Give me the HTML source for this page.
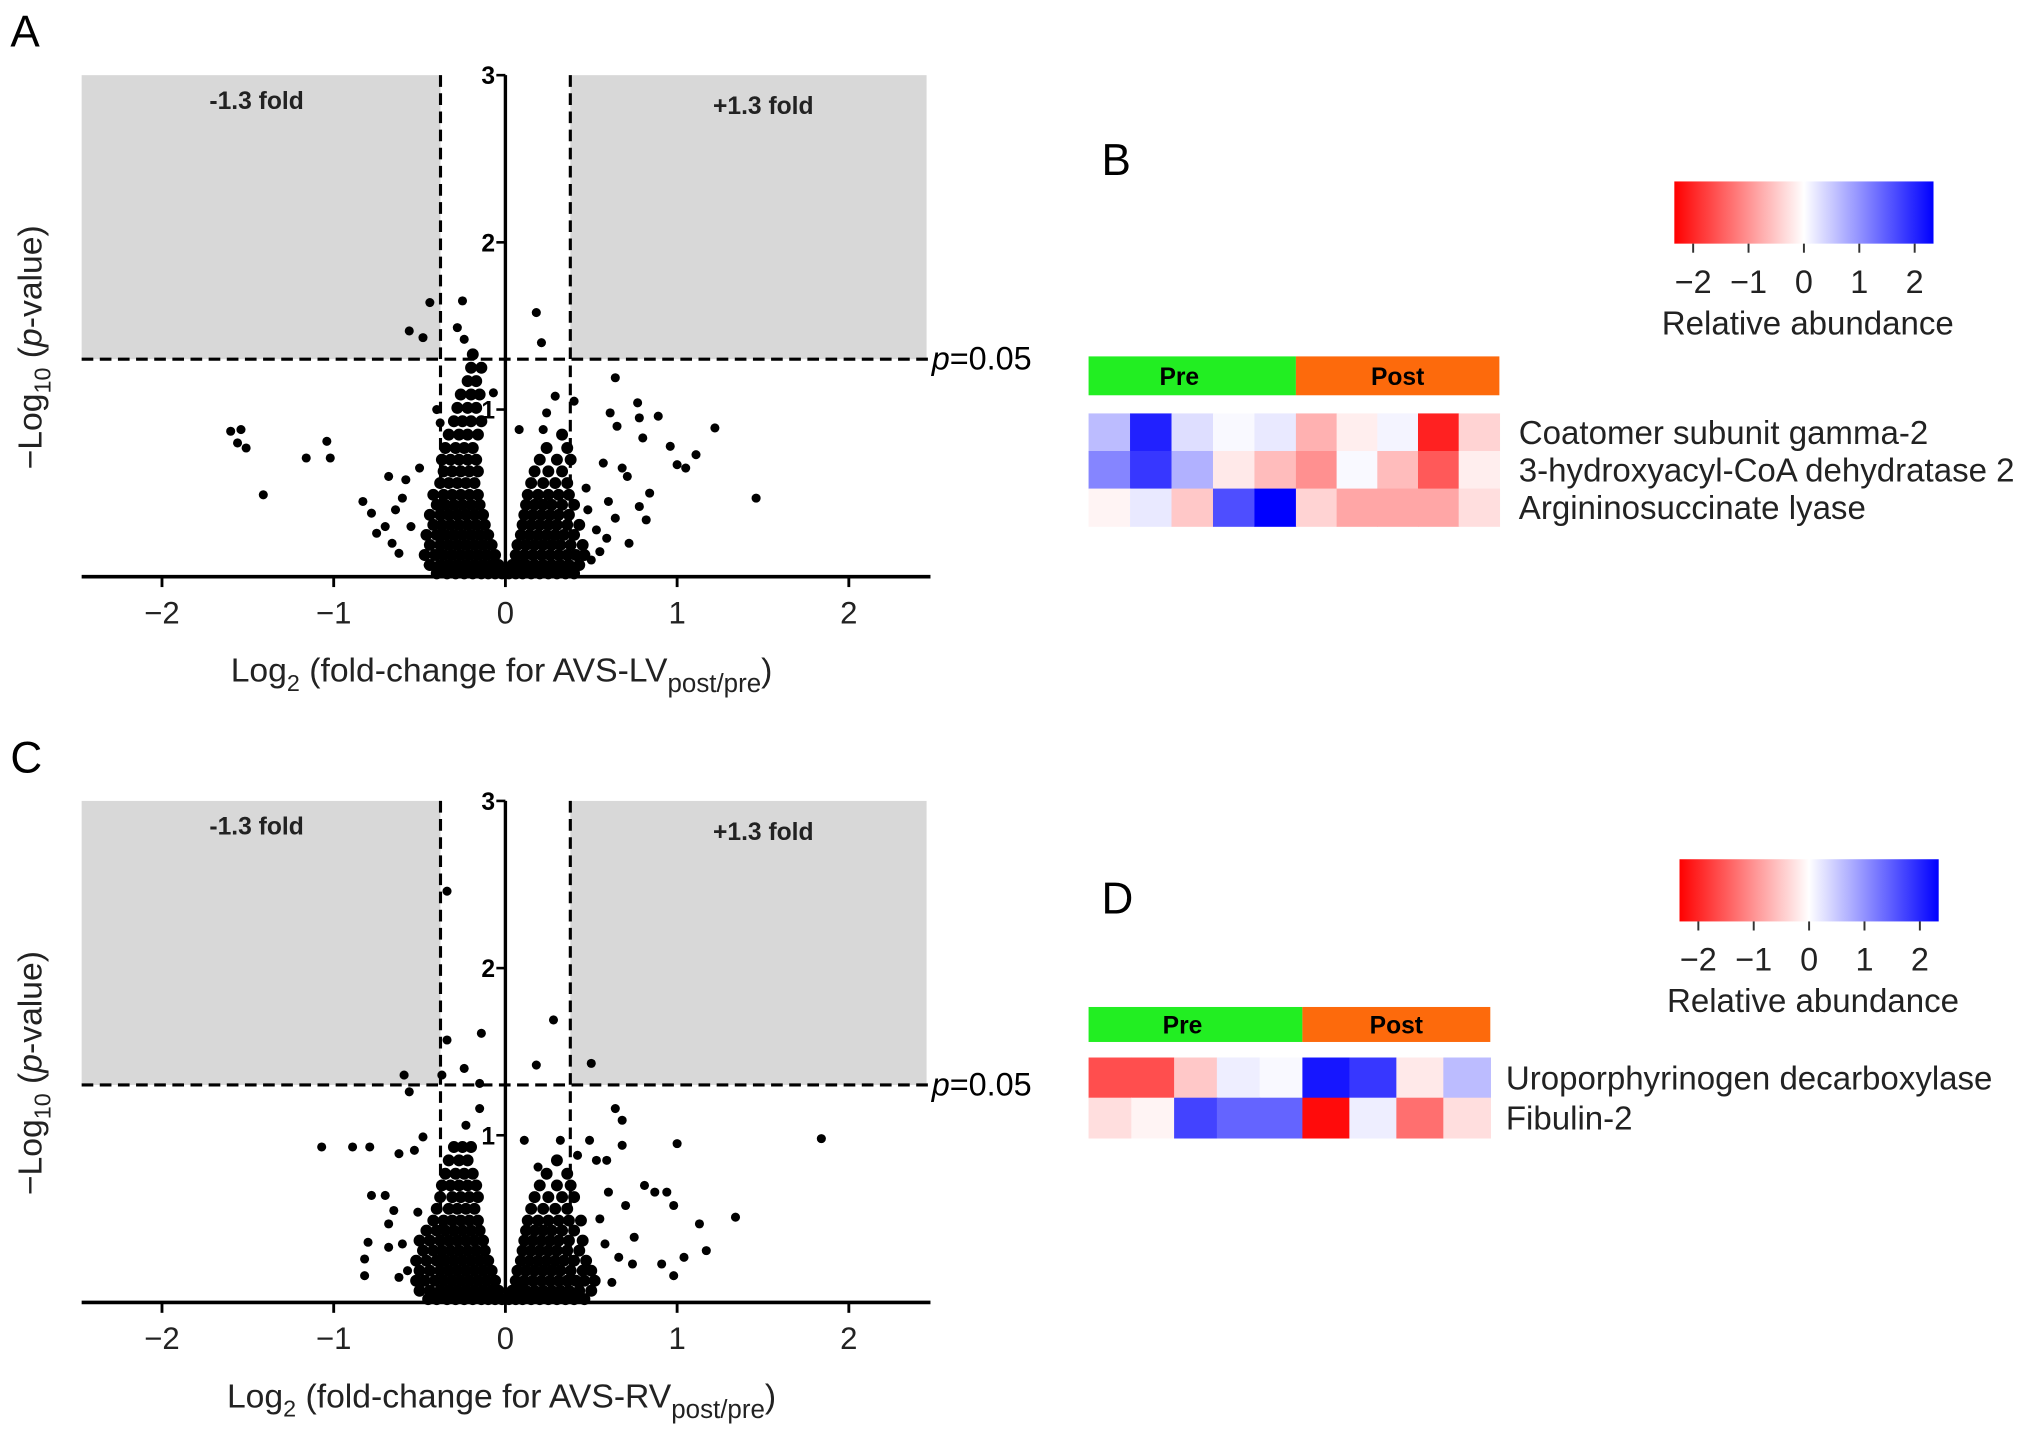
<!DOCTYPE html>
<html><head><meta charset="utf-8"><style>
html,body{margin:0;padding:0;background:#fff;}
svg{display:block;font-family:"Liberation Sans",sans-serif;}
</style></head><body>
<svg id="fig" width="2032" height="1434" viewBox="0 0 1568 1106.5" preserveAspectRatio="none" xmlns="http://www.w3.org/2000/svg"></svg>
<script>
// ---------- Data ----------
const xTicks = [-2, -1, 0, 1, 2];
const xTickLabels = ["\u22122", "\u22121", "0", "1", "2"];
const yTicks = [1, 2, 3];
const yTickLabels = ["1", "2", "3"];
const foldCut = 0.378;
const pCut = 1.301;

const outliersA = [[-0.44,1.64],[-0.25,1.65],[-0.56,1.47],[-0.48,1.43],[-0.28,1.49],[-0.24,1.42],[0.18,1.58],[0.21,1.40],
[0.64,1.19],[0.77,1.04],[0.89,0.96],[0.78,0.95],[0.61,0.98],[0.65,0.90],[0.80,0.83],[1.22,0.89],[0.96,0.78],[1.11,0.73],[1.00,0.67],[1.05,0.65],[1.46,0.47],
[0.29,1.08],[0.40,1.05],[0.24,0.98],[0.08,0.88],[0.22,0.88],[-0.07,1.10],[-0.40,1.00],[-0.38,0.92],
[-1.60,0.87],[-1.54,0.88],[-1.56,0.80],[-1.51,0.77],[-1.04,0.81],[-1.16,0.71],[-1.02,0.71],[-1.41,0.49],[-0.83,0.45],[-0.68,0.60],[-0.58,0.58],[-0.50,0.65],
[-0.78,0.38],[-0.75,0.26],[-0.66,0.20],[-0.62,0.14],[-0.45,0.07],[-0.60,0.47],[-0.70,0.30],[-0.55,0.30],[-0.64,0.40],
[0.57,0.68],[0.68,0.65],[0.71,0.60],[0.84,0.50],[0.78,0.42],[0.82,0.34],[0.72,0.20],[0.50,0.10],[0.59,0.23],[0.64,0.35],[0.47,0.53],[0.53,0.28],[0.60,0.45],[0.48,0.40],[0.55,0.15]];

const coreA = [
[0.02,[-0.40,-0.34,-0.29,-0.24,-0.19,-0.14,-0.10,-0.06,-0.02,0.02,0.06,0.10,0.15,0.20,0.25,0.30,0.35,0.40]],
[0.07,[-0.44,-0.38,-0.33,-0.28,-0.23,-0.18,-0.13,-0.08,-0.04,0.04,0.08,0.12,0.17,0.22,0.27,0.32,0.37,0.43]],
[0.13,[-0.47,-0.41,-0.36,-0.31,-0.26,-0.21,-0.16,-0.11,-0.06,0.06,0.11,0.16,0.21,0.26,0.31,0.36,0.41,0.46]],
[0.19,[-0.44,-0.38,-0.33,-0.28,-0.23,-0.18,-0.13,-0.08,0.07,0.12,0.17,0.22,0.27,0.32,0.38,0.45]],
[0.25,[-0.46,-0.40,-0.35,-0.30,-0.25,-0.20,-0.15,-0.10,0.09,0.14,0.19,0.24,0.29,0.34,0.40]],
[0.31,[-0.42,-0.37,-0.32,-0.27,-0.22,-0.17,-0.12,0.10,0.15,0.20,0.25,0.30,0.36,0.43]],
[0.37,[-0.44,-0.38,-0.33,-0.28,-0.23,-0.18,-0.13,0.11,0.16,0.21,0.26,0.31,0.37]],
[0.43,[-0.40,-0.35,-0.30,-0.25,-0.20,-0.15,0.12,0.17,0.22,0.27,0.33,0.40]],
[0.49,[-0.42,-0.36,-0.31,-0.26,-0.21,-0.16,0.13,0.19,0.25,0.31,0.37]],
[0.56,[-0.38,-0.33,-0.28,-0.23,-0.18,0.15,0.22,0.29,0.36]],
[0.63,[-0.36,-0.31,-0.26,-0.21,-0.16,0.17,0.25,0.33]],
[0.70,[-0.37,-0.32,-0.27,-0.22,-0.17,0.20,0.30,0.38]],
[0.77,[-0.35,-0.29,-0.24,-0.19,0.24,0.36]],
[0.85,[-0.33,-0.27,-0.22,-0.16,0.33]],
[0.93,[-0.30,-0.25,-0.20,-0.14]],
[1.01,[-0.28,-0.22,-0.17]],
[1.09,[-0.26,-0.20,-0.15]],
[1.17,[-0.22,-0.17]],
[1.25,[-0.20,-0.14]],
[1.33,[-0.19]]
];

const outliersC = [[-0.34,2.46],[-0.14,1.61],[-0.34,1.57],[0.28,1.69],[0.18,1.42],[0.50,1.43],[-0.59,1.36],[-0.56,1.26],[-0.37,1.36],[-0.24,1.40],[-0.15,1.31],
[0.64,1.16],[0.68,1.09],[-0.15,1.16],[-0.23,1.06],[-0.48,0.99],[-1.07,0.93],[-0.89,0.93],[-0.79,0.93],[-0.62,0.89],[-0.53,0.91],[1.84,0.98],[1.00,0.95],
[0.68,0.94],[0.59,0.85],[1.34,0.51],[0.94,0.66],[0.98,0.58],[1.13,0.47],[1.04,0.27],[0.98,0.16],[1.17,0.31],[0.91,0.23],[-0.78,0.64],[-0.70,0.64],[-0.68,0.47],
[-0.80,0.36],[-0.82,0.16],[-0.82,0.26],[-0.68,0.33],[0.60,0.66],[0.70,0.58],[0.81,0.70],[0.87,0.66],[0.75,0.39],[0.66,0.27],[0.74,0.23],[0.49,0.97],[0.53,0.85],
[0.32,0.97],[0.42,0.88],[-0.51,0.54],[-0.60,0.35],[-0.57,0.19],[0.11,0.97],[0.19,0.81],[-0.62,0.15],[-0.65,0.55],[0.55,0.50],[0.58,0.35],[0.62,0.12]];

const coreC = [
[0.02,[-0.45,-0.40,-0.34,-0.29,-0.24,-0.19,-0.14,-0.10,-0.06,-0.02,0.02,0.06,0.10,0.15,0.20,0.25,0.30,0.35,0.40,0.46]],
[0.07,[-0.50,-0.44,-0.38,-0.33,-0.28,-0.23,-0.18,-0.13,-0.08,-0.04,0.04,0.08,0.12,0.17,0.22,0.27,0.32,0.37,0.43,0.50]],
[0.13,[-0.52,-0.47,-0.41,-0.36,-0.31,-0.26,-0.21,-0.16,-0.11,-0.06,0.06,0.11,0.16,0.21,0.26,0.31,0.36,0.41,0.46,0.52]],
[0.19,[-0.50,-0.44,-0.38,-0.33,-0.28,-0.23,-0.18,-0.13,-0.08,0.07,0.12,0.17,0.22,0.27,0.32,0.38,0.45,0.50]],
[0.25,[-0.52,-0.46,-0.40,-0.35,-0.30,-0.25,-0.20,-0.15,-0.10,0.09,0.14,0.19,0.24,0.29,0.34,0.40,0.47]],
[0.31,[-0.48,-0.42,-0.37,-0.32,-0.27,-0.22,-0.17,-0.12,0.10,0.15,0.20,0.25,0.30,0.36,0.43]],
[0.37,[-0.50,-0.44,-0.38,-0.33,-0.28,-0.23,-0.18,-0.13,0.11,0.16,0.21,0.26,0.31,0.37,0.45]],
[0.43,[-0.46,-0.40,-0.35,-0.30,-0.25,-0.20,-0.15,0.12,0.17,0.22,0.27,0.33,0.40]],
[0.49,[-0.42,-0.36,-0.31,-0.26,-0.21,-0.16,0.13,0.19,0.25,0.31,0.37,0.44]],
[0.56,[-0.40,-0.33,-0.28,-0.23,-0.18,0.15,0.22,0.29,0.36]],
[0.63,[-0.38,-0.31,-0.26,-0.21,-0.16,0.17,0.25,0.33,0.40]],
[0.70,[-0.37,-0.32,-0.27,-0.22,-0.17,0.20,0.30,0.38]],
[0.77,[-0.35,-0.29,-0.24,-0.19,0.24,0.36]],
[0.85,[-0.33,-0.27,-0.22,0.30]],
[0.93,[-0.30,-0.25,-0.20]]
];

const heatRowsB = ["Coatomer subunit gamma-2", "3-hydroxyacyl-CoA dehydratase 2", "Argininosuccinate lyase"];
const heatValsB = [
[0.6, 2.0, 0.3, 0.05, 0.2, -0.7, -0.15, 0.1, -2.0, -0.4],
[1.1, 1.8, 0.7, -0.2, -0.6, -1.0, 0.05, -0.6, -1.5, -0.15],
[-0.1, 0.2, -0.5, 1.6, 2.3, -0.4, -0.8, -0.8, -0.8, -0.3]];
const groupsB = ["Pre","Pre","Pre","Pre","Pre","Post","Post","Post","Post","Post"];

const heatRowsD = ["Uroporphyrinogen decarboxylase", "Fibulin-2"];
const heatValsD = [
[-1.6, -1.6, -0.5, 0.15, 0.05, 2.1, 1.8, -0.2, 0.6],
[-0.3, -0.1, 1.7, 1.4, 1.4, -2.2, 0.15, -1.3, -0.3]];
const groupsD = ["Pre","Pre","Pre","Pre","Pre","Post","Post","Post","Post"];

const scaleTicks = [-2, -1, 0, 1, 2];
const scaleTickLabels = ["\u22122", "\u22121", "0", "1", "2"];

// ---------- helpers ----------
const NS = "http://www.w3.org/2000/svg";
const svg = document.getElementById("fig");
function mk(tag, attrs, parent, text) {
  const e = document.createElementNS(NS, tag);
  for (const k in attrs) e.setAttribute(k, attrs[k]);
  if (text !== undefined) e.textContent = text;
  (parent || svg).appendChild(e);
  return e;
}

function volcano(oy, outliers, core, tag, panelLetter) {
  const X0 = 390, XU = 132.5, Y0 = 445 + oy, YU = 129;
  const sx = v => X0 + v * XU;
  const sy = v => Y0 - v * YU;
  const g = mk("g", {});
  
  
  const L = mk("text", {x: 8, y: 36 + oy, "font-size": 34}, g, panelLetter);
  
  
  const r1 = mk("rect", {x: 63, y: sy(3), width: sx(-foldCut) - 63, height: sy(pCut) - sy(3), fill: "#d8d8d8"}, g);
  
  
  const r2 = mk("rect", {x: sx(foldCut), y: sy(3), width: 715 - sx(foldCut), height: sy(pCut) - sy(3), fill: "#d8d8d8"}, g);
  
  
  const t1 = mk("text", {x: 198, y: 84 + oy, "font-size": 19, "font-weight": "bold", "text-anchor": "middle", fill: "#222"}, g, "-1.3 fold");
  
  
  const t2 = mk("text", {x: 589, y: 88 + oy, "font-size": 19, "font-weight": "bold", "text-anchor": "middle", fill: "#222"}, g, "+1.3 fold");
  
  
  const pts = mk("g", {fill: "#000"}, g);
  
  
  core.forEach(row => row[1].forEach(x => {
    const c = mk("circle", {cx: sx(x), cy: sy(row[0]), r: 4.6}, pts);
    
    
  }));
  outliers.forEach(p => {
    const c = mk("circle", {cx: sx(p[0]), cy: sy(p[1]), r: 3.5}, pts);
    
    
  });
  const dash = {stroke: "#000", "stroke-width": 2.4, "stroke-dasharray": "9,5", fill: "none"};
  const h = mk("line", Object.assign({x1: 63, x2: 718, y1: sy(pCut), y2: sy(pCut)}, dash), g);
  
  
  const v1 = mk("line", Object.assign({x1: sx(-foldCut), x2: sx(-foldCut), y1: sy(3), y2: Y0}, dash), g);
  
  
  const v2 = mk("line", Object.assign({x1: sx(foldCut), x2: sx(foldCut), y1: sy(3), y2: Y0}, dash), g);
  
  
  const pl = mk("text", {x: 719, y: sy(pCut) + 8, "font-size": 25}, g);
  
  
  mk("tspan", {"font-style": "italic"}, pl, "p");
  mk("tspan", {}, pl, "=0.05");
  const xa = mk("line", {x1: 63, x2: 718, y1: Y0, y2: Y0, stroke: "#000", "stroke-width": 2.8}, g);
  
  
  const ya = mk("line", {x1: X0, x2: X0, y1: sy(3), y2: Y0, stroke: "#000", "stroke-width": 2.6}, g);
  
  
  xTicks.forEach((t, i) => {
    const tk = mk("line", {x1: sx(t), x2: sx(t), y1: Y0, y2: Y0 + 8, stroke: "#000", "stroke-width": 2.2}, g);
    
    
    const tl = mk("text", {x: sx(t), y: Y0 + 36, "font-size": 24, "text-anchor": "middle", fill: "#222"}, g, xTickLabels[i]);
    
    
  });
  yTicks.forEach((t, i) => {
    const tk = mk("line", {x1: X0 - 7, x2: X0, y1: sy(t), y2: sy(t), stroke: "#000", "stroke-width": 2}, g);
    
    
    const tl = mk("text", {x: X0 - 8, y: sy(t) + 7, "font-size": 19, "font-weight": "bold", "text-anchor": "end"}, g, yTickLabels[i]);
    
    
  });
  const xt = mk("text", {x: 387, y: 526 + oy, "font-size": 26, "text-anchor": "middle", fill: "#222"}, g);
  
  
  mk("tspan", {}, xt, "Log");
  mk("tspan", {dy: 7, "font-size": 18}, xt, "2");
  mk("tspan", {dy: -7}, xt, " (fold-change for AVS-" + tag);
  mk("tspan", {dy: 8, "font-size": 20}, xt, "post/pre");
  mk("tspan", {dy: -8}, xt, ")");
  const yt = mk("text", {x: 0, y: 0, "font-size": 26, "text-anchor": "middle", fill: "#222", transform: "translate(32," + (268 + oy) + ") rotate(-90)"}, g);
  
  
  mk("tspan", {}, yt, "\u2212Log");
  mk("tspan", {dy: 7, "font-size": 18}, yt, "10");
  mk("tspan", {dy: -7}, yt, " (");
  mk("tspan", {"font-style": "italic"}, yt, "p");
  mk("tspan", {}, yt, "-value)");
}

function color(v) {
  const f = Math.max(-1, Math.min(1, v / 2.3));
  if (f < 0) { const w = Math.round(255 * (1 + f)); return "rgb(255," + w + "," + w + ")"; }
  const w = Math.round(255 * (1 - f)); return "rgb(" + w + "," + w + ",255)";
}

let gradCount = 0;
function heatmap(letter, ly, cb, bar, hm, rows, vals, groups) {
  const g = mk("g", {});
  
  
  const L = mk("text", {x: 850, y: ly, "font-size": 34}, g, letter);
  
  
  const id = "grad" + (gradCount++);
  const defs = mk("defs", {}, g);
  const lg = mk("linearGradient", {id: id, x1: 0, x2: 1, y1: 0, y2: 0}, defs);
  mk("stop", {offset: "0", "stop-color": "#ff0000"}, lg);
  mk("stop", {offset: "0.5", "stop-color": "#ffffff"}, lg);
  mk("stop", {offset: "1", "stop-color": "#0000ff"}, lg);
  const bx = mk("rect", {x: cb.x, y: cb.y, width: cb.w, height: cb.h, fill: "url(#" + id + ")"}, g);
  
  
  const cs = v => cb.x + cb.w / 2 + v * (cb.w / 2) / 2.34;
  scaleTicks.forEach((t, i) => {
    const tk = mk("line", {x1: cs(t), x2: cs(t), y1: cb.y + cb.h, y2: cb.y + cb.h + 7, stroke: "#333", "stroke-width": 1.5}, g);
    
    
    const tl = mk("text", {x: cs(t), y: cb.y + cb.h + 38, "font-size": 25, "text-anchor": "middle", fill: "#222"}, g, scaleTickLabels[i]);
    
    
  });
  const ra = mk("text", {x: cb.x + cb.w / 2 + 3, y: cb.y + cb.h + 70, "font-size": 25.5, "text-anchor": "middle", fill: "#222"}, g, "Relative abundance");
  
  
  const nPre = groups.filter(x => x === "Pre").length, nPost = groups.length - nPre;
  const pr = mk("rect", {x: bar.x, y: bar.y, width: bar.split - bar.x, height: bar.h, fill: "#22ee22"}, g);
  
  
  const po = mk("rect", {x: bar.split, y: bar.y, width: bar.x2 - bar.split, height: bar.h, fill: "#fd6a0c"}, g);
  
  
  const pt = mk("text", {x: (bar.x + bar.split) / 2 - 10, y: bar.y + bar.h / 2 + 7, "font-size": 19, "font-weight": "bold", "text-anchor": "middle"}, g, "Pre");
  
  
  const ot = mk("text", {x: (bar.split + bar.x2) / 2, y: bar.y + bar.h / 2 + 7, "font-size": 19, "font-weight": "bold", "text-anchor": "middle"}, g, "Post");
  
  
  const wPre = (bar.split - bar.x) / nPre, wPost = (bar.x2 - bar.split) / nPost;
  vals.forEach((row, r) => {
    row.forEach((v, c) => {
      const x = c < nPre ? bar.x + c * wPre : bar.split + (c - nPre) * wPost;
      const w = c < nPre ? wPre : wPost;
      const cell = mk("rect", {x: x, y: hm.y + r * hm.rh, width: w + 0.5, height: hm.rh + 0.5, fill: color(v)}, g);
      
      
    });
    const t = mk("text", {x: hm.lx, y: hm.y + r * hm.rh + hm.rh / 2 + 9, "font-size": 25.5, fill: "#222"}, g, rows[r]);
    
    
  });
}

volcano(0, outliersA, coreA, "LV", "A");
volcano(560, outliersC, coreC, "RV", "C");
heatmap("B", 135, {x: 1292, y: 140, w: 200, h: 48}, {x: 840, x2: 1157, split: 1000, y: 275, h: 30}, {y: 319, rh: 29, lx: 1172}, heatRowsB, heatValsB, groupsB);
heatmap("D", 705, {x: 1296, y: 663, w: 200, h: 48}, {x: 840, x2: 1150, split: 1005, y: 777, h: 27}, {y: 816, rh: 31, lx: 1162}, heatRowsD, heatValsD, groupsD);
</script>
</body></html>
